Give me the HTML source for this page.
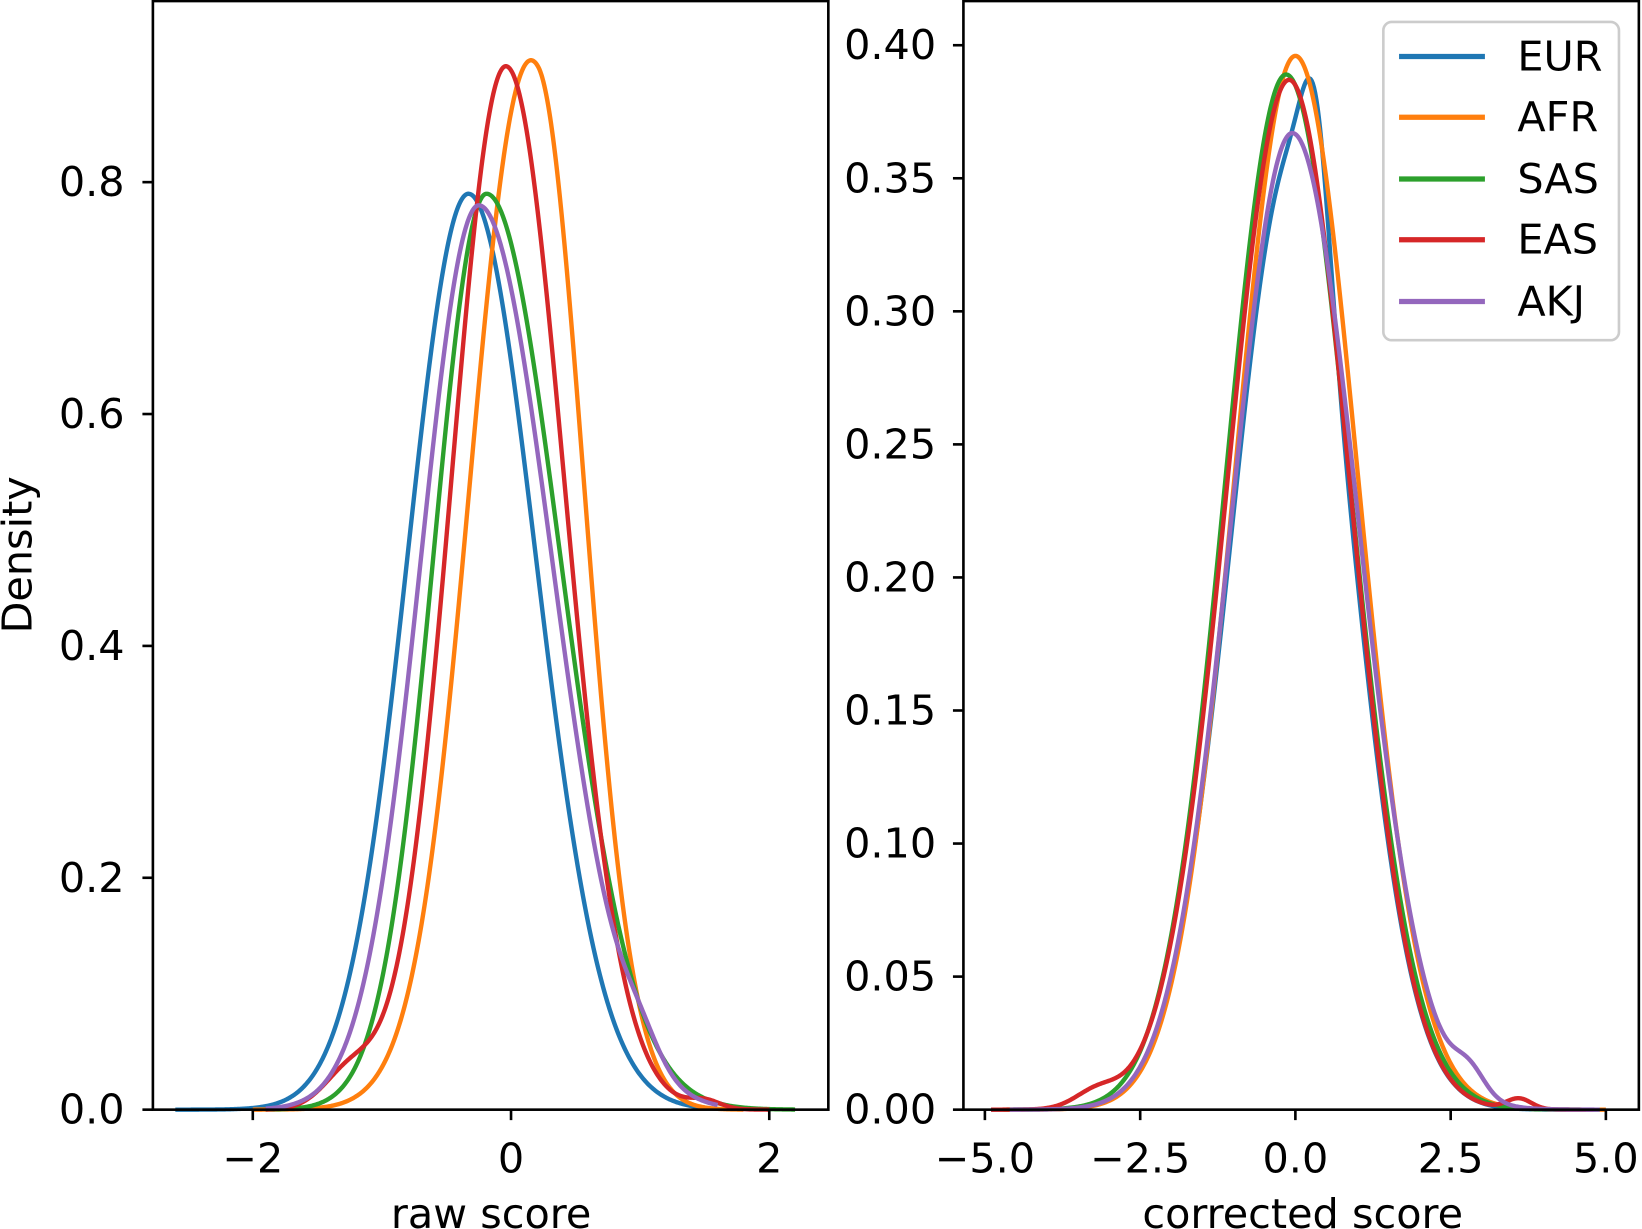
<!DOCTYPE html>
<html><head><meta charset="utf-8"><style>
html,body{margin:0;padding:0;background:#fff;}
svg{display:block;}
text{font-family:"DejaVu Sans","Liberation Sans",sans-serif;fill:#000;}
</style></head><body>
<svg id="s" width="1642" height="1229" viewBox="0 0 1568 1174" preserveAspectRatio="none" xmlns="http://www.w3.org/2000/svg">
<rect width="1568" height="1174" fill="#fff"/>
<g id="curves"></g>
<rect x="146" y="1" width="645" height="1059" fill="none" stroke="#000" stroke-width="2.5"/>
<rect x="920" y="1" width="645" height="1059" fill="none" stroke="#000" stroke-width="2.5"/>
<g stroke="#000" stroke-width="2.5">
<line x1="136" y1="1060" x2="146" y2="1060"/><line x1="136" y1="838.5" x2="146" y2="838.5"/>
<line x1="136" y1="617" x2="146" y2="617"/><line x1="136" y1="395.5" x2="146" y2="395.5"/>
<line x1="136" y1="174" x2="146" y2="174"/>
<line x1="241.4" y1="1060" x2="241.4" y2="1070"/><line x1="488" y1="1060" x2="488" y2="1070"/><line x1="734.6" y1="1060" x2="734.6" y2="1070"/>
<line x1="910" y1="1060" x2="920" y2="1060"/><line x1="910" y1="932.9" x2="920" y2="932.9"/><line x1="910" y1="805.8" x2="920" y2="805.8"/>
<line x1="910" y1="678.7" x2="920" y2="678.7"/><line x1="910" y1="551.6" x2="920" y2="551.6"/><line x1="910" y1="424.5" x2="920" y2="424.5"/>
<line x1="910" y1="297.4" x2="920" y2="297.4"/><line x1="910" y1="170.3" x2="920" y2="170.3"/><line x1="910" y1="43.2" x2="920" y2="43.2"/>
<line x1="940.5" y1="1060" x2="940.5" y2="1070"/><line x1="1088.8" y1="1060" x2="1088.8" y2="1070"/><line x1="1237" y1="1060" x2="1237" y2="1070"/>
<line x1="1385.3" y1="1060" x2="1385.3" y2="1070"/><line x1="1533.5" y1="1060" x2="1533.5" y2="1070"/>
</g>
<g font-size="39.5" text-anchor="end" dominant-baseline="central">
<text x="119" y="1060">0.0</text><text x="119" y="838.5">0.2</text><text x="119" y="617">0.4</text><text x="119" y="395.5">0.6</text><text x="119" y="174">0.8</text>
<text x="894" y="1060">0.00</text><text x="894" y="932.9">0.05</text><text x="894" y="805.8">0.10</text><text x="894" y="678.7">0.15</text>
<text x="894" y="551.6">0.20</text><text x="894" y="424.5">0.25</text><text x="894" y="297.4">0.30</text><text x="894" y="170.3">0.35</text><text x="894" y="43.2">0.40</text>
</g>
<g font-size="39.5" text-anchor="middle">
<text x="241.4" y="1120">−2</text><text x="488" y="1120">0</text><text x="734.6" y="1120">2</text>
<text x="940.5" y="1120">−5.0</text><text x="1088.8" y="1120">−2.5</text><text x="1237" y="1120">0.0</text><text x="1385.3" y="1120">2.5</text><text x="1533.5" y="1120">5.0</text>
<text x="469" y="1173">raw score</text><text x="1244" y="1173">corrected score</text>
</g>
<text font-size="39.5" text-anchor="middle" transform="translate(30,530) rotate(-90)">Density</text>
<rect x="1321" y="21" width="225" height="304" rx="8" fill="#fff" fill-opacity="0.8" stroke="#ccc" stroke-width="2.5"/>
<g stroke-width="5">
<line x1="1336" y1="54" x2="1418" y2="54" stroke="#1f77b4"/>
<line x1="1336" y1="112" x2="1418" y2="112" stroke="#ff7f0e"/>
<line x1="1336" y1="171" x2="1418" y2="171" stroke="#2ca02c"/>
<line x1="1336" y1="229" x2="1418" y2="229" stroke="#d62728"/>
<line x1="1336" y1="288" x2="1418" y2="288" stroke="#9467bd"/>
</g>
<g font-size="39.5" dominant-baseline="central">
<text x="1449" y="54">EUR</text><text x="1449" y="112">AFR</text><text x="1449" y="171">SAS</text><text x="1449" y="229">EAS</text><text x="1449" y="288">AKJ</text>
</g>
</svg>
<script>
(function(){
var g=document.getElementById('curves');
function ag(x,A,m,sl,sr){var s=x<m?sl:sr;return A*Math.exp(-(x-m)*(x-m)/(2*s*s));}
function path(f,x0,x1,X,Y,col){
  var d='';for(var i=0;i<=500;i++){var x=x0+(x1-x0)*i/500;var px=X(x),py=Y(Math.max(0,f(x)));d+=(i?'L':'M')+px.toFixed(2)+' '+py.toFixed(2);}
  var p=document.createElementNS('http://www.w3.org/2000/svg','path');
  p.setAttribute('d',d);p.setAttribute('fill','none');p.setAttribute('stroke',col);p.setAttribute('stroke-width','4.2');p.setAttribute('stroke-linejoin','round');
  g.appendChild(p);
}
var LX=function(v){return 488+123.3*v},LY=function(d){return 1060-1107.5*d};
var RX=function(v){return 1237+59.3*v},RY=function(d){return 1060-2542*d};
var c={EUR:'#1f77b4',AFR:'#ff7f0e',SAS:'#2ca02c',EAS:'#d62728',AKJ:'#9467bd'};
path(function(x){return ag(x,0.79,-0.33,0.47,0.52);},-2.6,1.5,LX,LY,c.EUR);
path(function(x){return ag(x,0.845,0.21,0.48,0.37)+ag(x,0.10,-0.12,0.3,0.3);},-2.0,1.8,LX,LY,c.AFR);
path(function(x){return ag(x,0.79,-0.19,0.41,0.57);},-1.9,2.2,LX,LY,c.SAS);
path(function(x){return ag(x,0.90,-0.04,0.42,0.45)+ag(x,0.03,-1.25,0.2,0.2)+ag(x,0.007,1.5,0.12,0.12);},-1.9,2.0,LX,LY,c.EAS);
path(function(x){return ag(x,0.78,-0.25,0.45,0.57)+ag(x,0.02,1.0,0.15,0.15);},-1.9,1.6,LX,LY,c.AKJ);
path(function(x){return ag(x,0.357,-0.05,0.98,0.97)+ag(x,0.05,0.33,0.22,0.22);},-4.9,4.8,RX,RY,c.EUR);
path(function(x){return ag(x,0.396,0.0,0.97,1.0);},-4.6,5.0,RX,RY,c.AFR);
path(function(x){return ag(x,0.389,-0.15,0.98,1.03);},-4.7,4.9,RX,RY,c.SAS);
path(function(x){return ag(x,0.387,-0.1,1.0,0.98)+ag(x,0.006,-3.2,0.35,0.35)+ag(x,0.004,3.6,0.2,0.2);},-4.9,4.8,RX,RY,c.EAS);
path(function(x){return ag(x,0.367,-0.05,0.98,1.06)+ag(x,0.009,2.8,0.25,0.25);},-4.6,4.9,RX,RY,c.AKJ);
})();
</script>
</body></html>
